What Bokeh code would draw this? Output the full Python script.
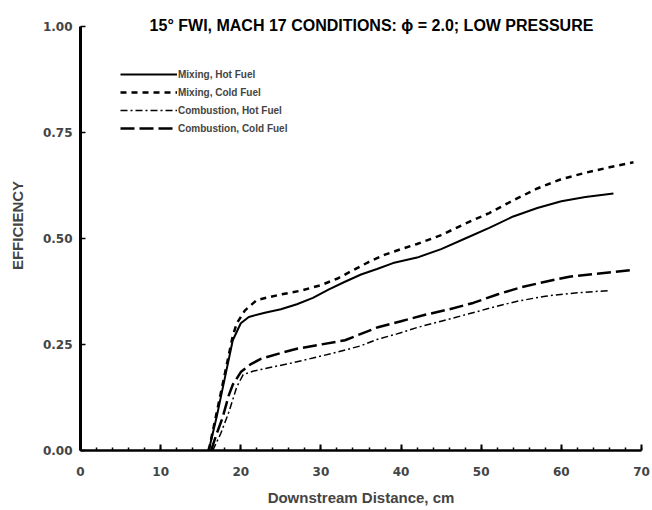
from bokeh.plotting import figure
from bokeh.models import Range1d, FixedTicker, Legend, LegendItem, Label
from bokeh.embed import file_html
from bokeh.resources import INLINE

# ---- data ----
mix_hot_x = [16, 17, 18, 19, 20, 21, 23, 25, 27, 29, 31, 33, 35, 37, 39, 42, 45, 48, 51, 54, 57, 60, 63, 66.5]
mix_hot_y = [0.0, 0.08, 0.17, 0.26, 0.30, 0.315, 0.325, 0.333, 0.345, 0.360, 0.380, 0.398, 0.415,
             0.428, 0.442, 0.455, 0.475, 0.500, 0.525, 0.552, 0.572, 0.588, 0.598, 0.606]

mix_cold_x = [16, 17, 18, 19, 19.5, 20.5, 22, 25, 27.5, 30, 32, 34, 36, 38, 40, 42, 45, 48, 51, 54, 57, 60, 63, 66, 69]
mix_cold_y = [0.0, 0.09, 0.18, 0.27, 0.30, 0.33, 0.355, 0.368, 0.377, 0.39, 0.405, 0.425, 0.445, 0.462,
              0.475, 0.487, 0.508, 0.535, 0.56, 0.59, 0.618, 0.64, 0.655, 0.668, 0.68]

comb_hot_x = [16.5, 17.5, 18.5, 19.5, 20.3, 21.5, 23, 26, 29, 32, 35, 37, 39.5, 42, 45, 48, 51.5, 54.5, 58, 62, 65.8]
comb_hot_y = [0.0, 0.04, 0.09, 0.15, 0.179, 0.187, 0.193, 0.205, 0.218, 0.232, 0.247, 0.262, 0.275,
              0.29, 0.305, 0.32, 0.338, 0.352, 0.364, 0.372, 0.377]

comb_cold_x = [16.3, 17, 17.7, 18.5, 19, 20, 21.2, 22.5, 25, 27, 30, 33, 35, 37, 40, 43, 46, 49, 52, 55, 58, 61, 64, 69]
comb_cold_y = [0.0, 0.04, 0.076, 0.13, 0.155, 0.185, 0.203, 0.216, 0.23, 0.24, 0.25, 0.26, 0.275, 0.29,
               0.305, 0.32, 0.333, 0.348, 0.368, 0.385, 0.398, 0.41, 0.416, 0.426]

series_labels = ["Mixing, Hot Fuel", "Mixing, Cold Fuel", "Combustion, Hot Fuel", "Combustion, Cold Fuel"]
x_ticks = [0, 10, 20, 30, 40, 50, 60, 70]
x_minor = [v for v in range(0, 71, 2)]
y_ticks = [0.0, 0.25, 0.50, 0.75, 1.00]
y_tick_labels = {0.0: "0.00", 0.25: "0.25", 0.5: "0.50", 0.75: "0.75", 1.0: "1.00"}
title_text = "15\u00b0 FWI, MACH 17 CONDITIONS: \u03d5 = 2.0; LOW PRESSURE"

FONT = "Liberation Sans"

p = figure(width=652, height=510, output_backend="svg", toolbar_location=None,
           x_range=Range1d(0, 70), y_range=Range1d(0, 1.0613),
           min_border_left=80, min_border_right=11, min_border_top=0, min_border_bottom=60,
           title=None, outline_line_color=None, background_fill_color="white")
p.grid.visible = False

xa = p.xaxis[0]
xa.ticker = FixedTicker(ticks=x_ticks, minor_ticks=x_minor)
xa.axis_label = "Downstream Distance, cm"
xa.axis_label_text_font = FONT
xa.axis_label_text_font_style = "bold"
xa.axis_label_text_font_size = "15px"
xa.axis_label_standoff = 10
xa.major_label_text_font = "DejaVu Sans"
xa.major_label_text_font_style = "bold"
xa.major_label_text_font_size = "12px"
xa.major_label_standoff = 16
xa.major_tick_in = 6
xa.major_tick_out = 0
xa.minor_tick_in = 3
xa.minor_tick_out = 0
xa.axis_line_width = 2.5
xa.major_tick_line_width = 2
xa.minor_tick_line_width = 1.5

ya = p.yaxis[0]
ya.ticker = FixedTicker(ticks=y_ticks, minor_ticks=[])
ya.bounds = (0, 1.0)
ya.major_label_overrides = y_tick_labels
ya.axis_label = "EFFICIENCY"
ya.axis_label_text_font = FONT
ya.axis_label_text_font_style = "bold"
ya.axis_label_text_font_size = "15px"
ya.axis_label_standoff = 14
ya.major_label_text_font = "DejaVu Sans"
ya.major_label_text_font_style = "bold"
ya.major_label_text_font_size = "12px"
ya.major_label_standoff = 8
ya.major_tick_in = 5
ya.major_tick_out = 0
ya.axis_line_width = 3
ya.major_tick_line_width = 1.5

r1 = p.line(mix_hot_x, mix_hot_y, line_color="black", line_width=2)
r2 = p.line(mix_cold_x, mix_cold_y, line_color="black", line_width=2.5, line_dash="6 5")
r3 = p.line(comb_hot_x, comb_hot_y, line_color="black", line_width=1.5, line_dash="7 3 2 3")
r4 = p.line(comb_cold_x, comb_cold_y, line_color="black", line_width=2.5, line_dash="14 5")

legend = Legend(items=[LegendItem(label=series_labels[0], renderers=[r1]),
                       LegendItem(label=series_labels[1], renderers=[r2]),
                       LegendItem(label=series_labels[2], renderers=[r3]),
                       LegendItem(label=series_labels[3], renderers=[r4])],
                location=(40, 316), glyph_width=57, glyph_height=12, label_height=12,
                spacing=6, padding=0, margin=0, label_standoff=1,
                label_text_font=FONT, label_text_font_style="bold", label_text_font_size="10px",
                border_line_alpha=0, background_fill_alpha=0)
p.add_layout(legend, "center")

title = Label(x=291, y=1.0 + 1.0 / 424, x_units="screen", y_units="data", text=title_text,
              text_font=FONT, text_font_style="bold", text_font_size="16px",
              text_align="center", text_baseline="middle", text_color="black")
p.add_layout(title)

open("out.html", "w").write(file_html(p, INLINE))
